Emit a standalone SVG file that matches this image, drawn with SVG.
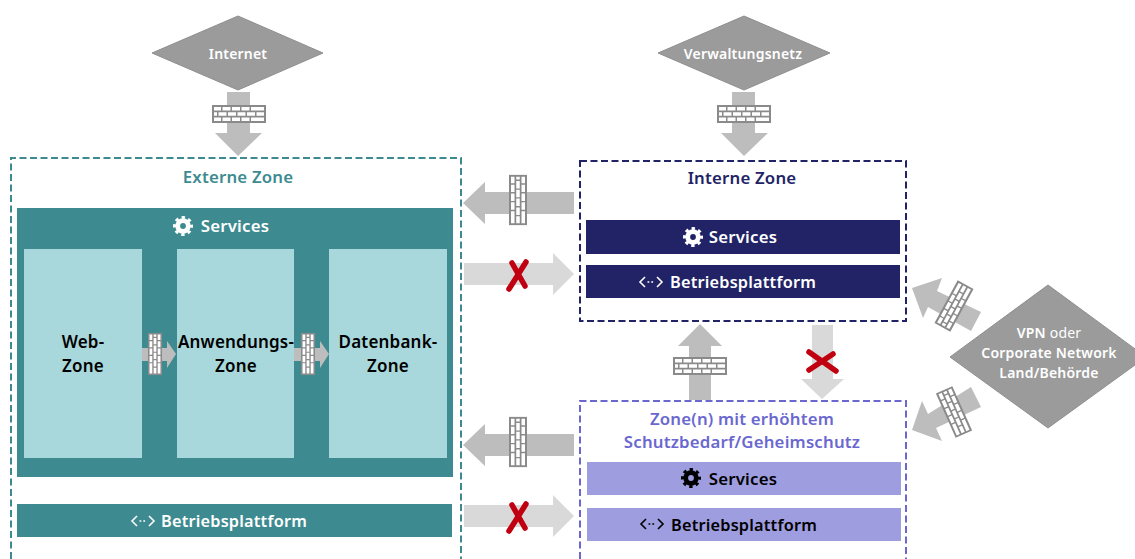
<svg xmlns="http://www.w3.org/2000/svg" xmlns:xlink="http://www.w3.org/1999/xlink" width="1135" height="559" viewBox="0 0 1135 559">
<style>
text{font-family:"Noto Sans","Open Sans","Liberation Sans",sans-serif;font-weight:600;text-anchor:middle;letter-spacing:.2px}
.dia{fill:#9b9b9b;stroke:#8f8f8f;stroke-width:1}
.w{fill:#fff}
.l{font-size:16.8px}
.p{font-size:16.3px}
.t{font-size:14px;fill:#fff}
.b{font-size:17px;fill:#000}
.a1{fill:#bdbdbd}
.a2{fill:#d9d9d9}
.x{stroke:#c00010;stroke-width:5.500;stroke-linecap:round;fill:none}
.z{fill:none;stroke-width:2;stroke-dasharray:7 3.500}
</style>
<defs>
<g id="wall">
<rect x="-27" y="-9" width="54" height="18" fill="#8a8a8a"/>
<path class="w" d="M-25-7h7v3.500h-7zM-16.500-7h8v3.500h-8zM-7-7h8v3.500h-8zM2.500-7h8v3.500h-8zM12-7h13v3.500h-13zM-25-1.750h3v3.500h-3zM-20.500-1.750h8v3.500h-8zM-11-1.750h8v3.500h-8zM-1.500-1.750h8v3.500h-8zM8-1.750h8v3.500h-8zM17.500-1.750h7.500v3.500h-7.500zM-25 3.500h7v3.500h-7zM-16.500 3.500h8v3.500h-8zM-7 3.500h8v3.500h-8zM2.500 3.500h8v3.500h-8zM12 3.500h13v3.500h-13z"/>
</g>
<g id="gear">
<circle r="5.300" fill="none" stroke="currentColor" stroke-width="4.800"/>
<circle r="8.300" fill="none" stroke="currentColor" stroke-width="3.400" stroke-dasharray="3.260 3.260" stroke-dashoffset="1.630"/>
</g>
<g id="code" fill="none" stroke="currentColor" stroke-width="1.600">
<path d="M-6-5-11 0-6 5M6-5 11 0 6 5"/>
<path d="M-3.500 0H4" stroke-dasharray="1.800 2"/>
</g>
</defs>

<g id="connectors">
<path class="a1" d="M227 92h23v41h12l-24 23-23-23h12z"/>
<use href="#wall" transform="translate(239 114)"/>
<path class="a1" d="M732 92h23v41h13l-24 23-23-23h11z"/>
<use href="#wall" transform="translate(744 114)"/>
<path class="a1" d="M574 192v22H485v10l-22-21 22-21v10z"/>
<use href="#wall" transform="translate(518 200) rotate(90) scale(.93 1)"/>
<path class="a2" d="M464 263h89v-10l21 21-21 21v-10H464z"/>
<path class="x" d="M526 262 509 289M512 263l13 23"/>
<path class="a1" d="M574 434v22H485v10l-22-21 22-21v10z"/>
<use href="#wall" transform="translate(518 442) rotate(90) scale(.93 1)"/>
<path class="a2" d="M464 505h89v-10l21 21-21 21v-10H464z"/>
<path class="x" d="M526 504 509 531M512 505l13 23"/>
<path class="a1" d="M689 400V346H678l22-22 22 22H711v54z"/>
<use href="#wall" transform="translate(700 366)"/>
<path class="a2" d="M812 325h21v54h11l-22 20-21-20h11z"/>
<path class="x" d="M809 352 836 371M833 354 809 370"/>
<path class="a1" d="M912 288 942 278 937 291 981 312 971 331 928 307 923 318z"/>
<use href="#wall" transform="translate(954 306) rotate(-61.500) scale(.9 1)"/>
<path class="a1" d="M912 430 922 401 928 414 971 387 981 407 936 428 942 441z"/>
<use href="#wall" transform="translate(954 412) rotate(66) scale(.9 1)"/>
</g>

<g id="internet">
<path class="dia" d="M152 53 238 16 323 53 238 90z"/>
<text class="t" x="238" y="59">Internet</text>
</g>
<g id="verwaltungsnetz">
<path class="dia" d="M658 53 744 16 830 53 744 90z"/>
<text class="t" x="743" y="59">Verwaltungsnetz</text>
</g>
<g id="vpn">
<path class="dia" d="M950 357 1048 285 1146 357 1048 428z"/>
<text class="t" x="1049" y="338">VPN <tspan font-weight="400">oder</tspan></text>
<text class="t" x="1049" y="358">Corporate Network</text>
<text class="t" x="1049" y="378">Land/Behörde</text>
</g>

<g id="externe-zone">
<path class="z" stroke="#3d8b90" d="M11 559V158H461V559"/>
<text class="l" x="238" y="183" fill="#3d8b90">Externe Zone</text>
<rect x="17" y="208" width="436" height="269" fill="#3d8b90"/>
<use href="#gear" x="183" y="226" color="#fff"/>
<text class="l" x="235" y="232" fill="#fff">Services</text>
</g>
<g id="web-zone">
<rect x="24" y="249" width="118" height="209" fill="#a8d8dc"/>
<text class="b" x="83" y="348">Web-</text>
<text class="b" x="83" y="372">Zone</text>
</g>
<g id="anwendungs-zone">
<rect x="177" y="249" width="117" height="209" fill="#a8d8dc"/>
<text class="b" x="236" y="348">Anwendungs-</text>
<text class="b" x="236" y="372">Zone</text>
</g>
<g id="datenbank-zone">
<rect x="329" y="249" width="118" height="209" fill="#a8d8dc"/>
<text class="b" x="388" y="348">Datenbank-</text>
<text class="b" x="388" y="372">Zone</text>
</g>
<g id="inner-connectors">
<path class="a1" d="M142 348h25v-7l9 13-9 14v-7h-25z"/>
<use href="#wall" transform="translate(155 354) rotate(90) scale(.78)"/>
<path class="a1" d="M294 348h26v-7l9 13-9 14v-7h-26z"/>
<use href="#wall" transform="translate(308 354) rotate(90) scale(.78)"/>
</g>
<g id="externe-betriebsplattform">
<rect x="17" y="504" width="435" height="33" fill="#3d8b90"/>
<use href="#code" x="143" y="521" color="#fff"/>
<text class="p" x="234" y="527" fill="#fff">Betriebsplattform</text>
</g>

<g id="interne-zone">
<rect class="z" x="580" y="161" width="326" height="160" stroke="#212366"/>
<text class="l" x="742" y="184" fill="#212366">Interne Zone</text>
</g>
<g id="interne-services">
<rect x="586" y="220" width="314" height="34" fill="#212366"/>
<use href="#gear" x="693" y="237" color="#fff"/>
<text class="l" x="743" y="243" fill="#fff">Services</text>
</g>
<g id="interne-betriebsplattform">
<rect x="586" y="265" width="314" height="33" fill="#212366"/>
<use href="#code" x="651" y="282" color="#fff"/>
<text class="p" x="743" y="288" fill="#fff">Betriebsplattform</text>
</g>

<g id="schutz-zone">
<path class="z" stroke="#6a68cf" d="M580 559V401H906V559"/>
<text class="l" x="742" y="425" fill="#6a68cf">Zone(n) mit erhöhtem</text>
<text class="l" x="742" y="448" fill="#6a68cf">Schutzbedarf/Geheimschutz</text>
</g>
<g id="schutz-services">
<rect x="587" y="462" width="314" height="33" fill="#9e9de0"/>
<use href="#gear" x="691" y="478" color="#000"/>
<text class="l" x="743" y="485" fill="#000">Services</text>
</g>
<g id="schutz-betriebsplattform">
<rect x="587" y="508" width="314" height="33" fill="#9e9de0"/>
<use href="#code" x="652" y="524" color="#000"/>
<text class="p" x="744" y="531" fill="#000">Betriebsplattform</text>
</g>
</svg>
